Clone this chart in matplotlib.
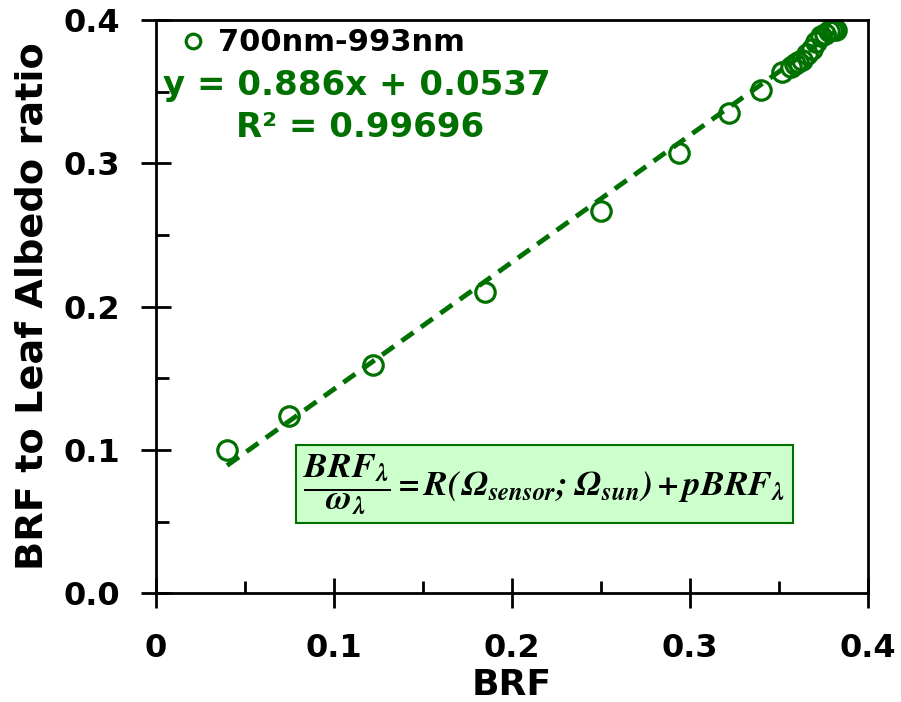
import matplotlib.pyplot as plt
from matplotlib.ticker import MultipleLocator, FuncFormatter
import numpy as np

plt.rcParams['mathtext.fontset'] = 'stix'

# data
brf = [0.040, 0.075, 0.122, 0.185, 0.250, 0.294, 0.322, 0.340, 0.352,
       0.357, 0.359, 0.361, 0.363, 0.366, 0.369, 0.371, 0.374, 0.376,
       0.378, 0.380, 0.381, 0.382]
ratio = [0.0998, 0.124, 0.159, 0.210, 0.267, 0.307, 0.335, 0.351, 0.364,
         0.367, 0.369, 0.371, 0.372, 0.376, 0.380, 0.385, 0.389, 0.390,
         0.392, 0.393, 0.394, 0.393]
slope = 0.886
intercept = 0.0537
r2 = 0.99696
label = '700nm-993nm'

green = '#007000'

fig = plt.figure(figsize=(9.01, 7.02), dpi=100)
ax = fig.add_axes([0.173, 0.155, 0.790, 0.8165])

ax.plot(brf, ratio, 'o', mfc='none', mec=green, ms=14, mew=2.3, label=label)
xf = np.array([min(brf), max(brf)])
ax.plot(xf, slope*xf + intercept, '--', color=green, lw=3.5, dashes=(3, 1.9))

ax.set_xlim(0, 0.4)
ax.set_ylim(0, 0.4)
ax.xaxis.set_major_locator(MultipleLocator(0.1))
ax.xaxis.set_minor_locator(MultipleLocator(0.05))
ax.yaxis.set_major_locator(MultipleLocator(0.1))
ax.yaxis.set_minor_locator(MultipleLocator(0.05))
ax.xaxis.set_major_formatter(FuncFormatter(lambda v, p: '0' if abs(v) < 1e-9 else '%.1f' % v))
ax.yaxis.set_major_formatter(FuncFormatter(lambda v, p: '%.1f' % v))
ax.tick_params(which='major', direction='inout', length=22, width=2,
               labelsize=23)
ax.tick_params(which='minor', direction='in', length=9, width=2)
ax.tick_params(axis='x', which='major', pad=18)
ax.tick_params(axis='y', which='major', pad=15)
for s in ax.spines.values():
    s.set_linewidth(2)
for t in ax.get_xticklabels() + ax.get_yticklabels():
    t.set_fontweight('bold')

ax.set_xlabel('BRF', fontweight='bold', fontsize=26, va='center')
ax.xaxis.set_label_coords(0.5, -0.16)
ax.set_ylabel('BRF to Leaf Albedo ratio', fontweight='bold', fontsize=27.5, va='center')
ax.yaxis.set_label_coords(-0.174, 0.5)

leg = ax.legend(loc='center left', frameon=False, handlelength=1, handletextpad=0.3,
                borderpad=0, borderaxespad=0, markerscale=0.75,
                prop={'weight': 'bold', 'size': 22}, bbox_to_anchor=(0.031, 0.96))

ax.text(0.01, 0.8866, 'y = 0.886x + 0.0537', transform=ax.transAxes, color=green,
        fontsize=24.5, fontweight='bold', va='center')
ax.text(0.2865, 0.813, 'R² = %.5f' % r2, transform=ax.transAxes, color=green,
        fontsize=24.5, fontweight='bold', va='center', ha='center')

eq = r'$\mathbfit{\dfrac{BRF_{\lambda}}{\omega_{\lambda}} = R(\Omega_{sensor};\Omega_{sun}) + pBRF_{\lambda}}$'
ax.text(0.546, 0.19, eq, transform=ax.transAxes, fontsize=25.5, ha='center', va='center',
        bbox=dict(boxstyle='square,pad=0.2', fc='#ccffcc', ec=green, lw=1.5))

fig.savefig('out.png', dpi=100)
